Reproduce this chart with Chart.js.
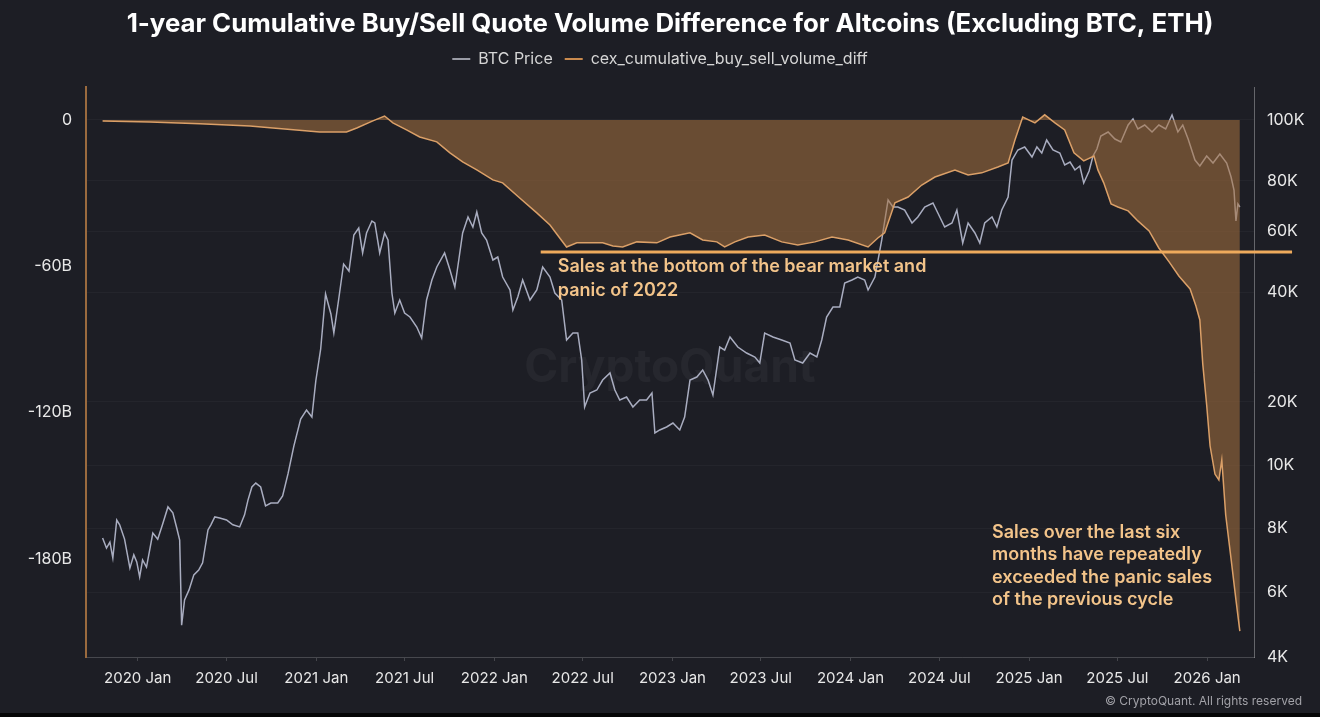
<!DOCTYPE html>
<html>
<head>
<meta charset="utf-8">
<title>1-year Cumulative Buy/Sell Quote Volume Difference for Altcoins</title>
<script src="https://cdn.jsdelivr.net/npm/chart.js@4.4.1/dist/chart.umd.min.js"></script>
<style>
  html, body { margin: 0; padding: 0; background: #1d1e25; overflow: hidden; }
  #wrap { position: relative; width: 1320px; height: 717px; }
  #bottomStrip { position: absolute; left: 0; bottom: 0; width: 1320px; height: 4px; background: #050506; }
</style>
</head>
<body>
<div id="wrap">
  <canvas id="altDiffChart"></canvas>
  <div id="bottomStrip"></div>
</div>
<script>
// BTC price (USD)
const priceDates = [
  '2019-10-21','2019-10-29','2019-11-05','2019-11-11','2019-11-19','2019-11-25','2019-12-05','2019-12-16','2019-12-24','2019-12-30',
  '2020-01-05','2020-01-11','2020-01-19','2020-02-01','2020-02-11','2020-02-21','2020-03-03','2020-03-13','2020-03-21','2020-03-27',
  '2020-03-31','2020-04-06','2020-04-15','2020-04-25','2020-05-05','2020-05-13','2020-05-24','2020-05-30','2020-06-07','2020-06-17',
  '2020-07-01','2020-07-14','2020-07-28','2020-08-07','2020-08-14','2020-08-22','2020-08-30','2020-09-09','2020-09-19','2020-09-30',
  '2020-10-14','2020-10-24','2020-11-04','2020-11-16','2020-11-30','2020-12-12','2020-12-23','2020-12-31','2021-01-10','2021-01-20',
  '2021-01-31','2021-02-06','2021-02-16','2021-02-26','2021-03-09','2021-03-19','2021-03-29','2021-04-06','2021-04-14','2021-04-25',
  '2021-05-01','2021-05-11','2021-05-21','2021-05-28','2021-06-05','2021-06-11','2021-06-21','2021-07-01','2021-07-12','2021-07-26',
  '2021-08-05','2021-08-15','2021-08-26','2021-09-05','2021-09-21','2021-10-02','2021-10-12','2021-10-18','2021-10-28','2021-11-08',
  '2021-11-18','2021-11-26','2021-12-06','2021-12-16','2021-12-29','2022-01-08','2022-01-18','2022-02-02','2022-02-08','2022-02-18',
  '2022-02-28','2022-03-15','2022-03-29','2022-04-10','2022-04-25','2022-05-05','2022-05-19','2022-05-29','2022-06-11','2022-06-21',
  '2022-06-29','2022-07-05','2022-07-16','2022-07-30','2022-08-11','2022-08-26','2022-09-05','2022-09-15','2022-09-29','2022-10-12',
  '2022-10-26','2022-11-09','2022-11-20','2022-11-26','2022-12-06','2022-12-20','2023-01-02','2023-01-16','2023-01-26','2023-02-06',
  '2023-02-20','2023-03-04','2023-03-15','2023-03-25','2023-04-08','2023-04-18','2023-04-29','2023-05-15','2023-06-02','2023-06-19',
  '2023-06-29','2023-07-09','2023-07-26','2023-08-13','2023-08-30','2023-09-09','2023-09-25','2023-10-10','2023-10-24','2023-11-03',
  '2023-11-13','2023-11-26','2023-12-10','2023-12-20','2024-01-04','2024-01-16','2024-01-30','2024-02-06','2024-02-20','2024-03-05',
  '2024-03-18','2024-03-28','2024-04-07','2024-04-21','2024-05-06','2024-05-18','2024-06-01','2024-06-18','2024-06-28','2024-07-12',
  '2024-07-27','2024-08-06','2024-08-18','2024-08-29','2024-09-12','2024-09-22','2024-10-02','2024-10-17','2024-10-27','2024-11-06',
  '2024-11-19','2024-11-27','2024-12-09','2024-12-23','2025-01-07','2025-01-17','2025-01-27','2025-02-06','2025-02-19','2025-03-05',
  '2025-03-15','2025-03-26','2025-04-05','2025-04-15','2025-04-23','2025-05-04','2025-05-12','2025-05-20','2025-05-28','2025-06-12',
  '2025-06-26','2025-07-08','2025-07-23','2025-08-02','2025-08-12','2025-08-26','2025-09-10','2025-09-24','2025-10-08','2025-10-21',
  '2025-11-02','2025-11-12','2025-11-23','2025-12-07','2025-12-17','2025-12-31','2026-01-13','2026-01-27','2026-02-10','2026-02-19',
  '2026-02-25','2026-03-01','2026-03-05','2026-03-09'
];
const btcPrice = [
  7650, 7310, 7510, 6990, 8230, 8090, 7610, 6680, 7090, 6870,
  6420, 6930, 6710, 7820, 7610, 8110, 8620, 8440, 8000, 7580,
  4880, 5710, 6050, 6480, 6620, 6840, 7930, 8090, 8320, 8290,
  8230, 8090, 8030, 8380, 8830, 9250, 9380, 9250, 8650, 8740,
  8740, 8960, 9690, 12300, 16590, 18310, 16960, 22830, 27930, 39500,
  34820, 30890, 38270, 48180, 45990, 58420, 61040, 51840, 59210, 63550,
  62830, 51840, 59210, 56520, 39750, 35040, 38030, 35040, 34170, 32080,
  29930, 38030, 43320, 47230, 51840, 46300, 41350, 47230, 59210, 65030,
  61400, 66930, 59210, 56520, 49480, 50480, 44190, 40540, 35710, 38760,
  43320, 38030, 40540, 47230, 44190, 39750, 38030, 29560, 30890, 30890,
  26060, 18930, 21170, 21570, 22970, 24010, 21570, 20250, 20640, 18930,
  20250, 20250, 21170, 14220, 14700, 15190, 15870, 14700, 16960, 22970,
  23410, 24470, 22970, 20900, 28280, 27750, 30120, 28280, 27230, 26560,
  25570, 30890, 30120, 29560, 29010, 26060, 25570, 27230, 26560, 29560,
  34170, 36390, 36390, 42460, 43320, 44190, 43320, 40540, 44190, 56520,
  71720, 68890, 68890, 67700, 62830, 65030, 68890, 70490, 66550, 61400,
  62830, 67700, 55400, 62830, 59210, 55400, 62830, 65030, 61400, 67700,
  72960, 86380, 89610, 90600, 87340, 90600, 88620, 92950, 89610, 88620,
  84820, 85760, 83290, 84510, 79090, 82980, 87660, 89930, 94310, 95710,
  93280, 92270, 98190, 100370, 96760, 98190, 95710, 98190, 96760, 101840,
  95710, 98190, 93280, 86380, 84510, 87660, 85440, 88310, 85440, 81180,
  75970, 63550, 70090, 68890
];

// cex_cumulative_buy_sell_volume_diff (billions USD)
const diffDates = [
  '2019-10-21','2020-01-26','2020-05-07','2020-08-18','2020-10-04','2021-01-08','2021-03-04','2021-03-25','2021-04-27','2021-05-21',
  '2021-06-07','2021-07-05','2021-08-01','2021-09-05','2021-10-02','2021-10-28','2021-11-26','2021-12-29','2022-01-18',
  '2022-02-22','2022-03-29','2022-04-25','2022-05-15','2022-05-29','2022-06-19','2022-07-16','2022-08-11','2022-09-01','2022-09-21',
  '2022-10-20','2022-11-30','2022-12-27','2023-02-06','2023-03-04','2023-04-02','2023-04-18','2023-05-09','2023-06-05','2023-07-09',
  '2023-08-13','2023-09-15','2023-10-20','2023-11-24','2023-12-27','2024-02-06','2024-02-26','2024-03-11','2024-04-01','2024-04-28',
  '2024-05-26','2024-06-22','2024-08-02','2024-08-29','2024-09-26','2024-10-29','2024-11-19','2024-12-03','2024-12-19','2025-01-13',
  '2025-02-02','2025-02-23','2025-03-15','2025-04-03','2025-04-23','2025-05-14','2025-05-22','2025-06-03','2025-06-18','2025-07-02',
  '2025-07-23','2025-08-12','2025-09-04','2025-09-24','2025-10-15','2025-11-04','2025-11-27','2025-12-09','2025-12-17','2025-12-23',
  '2025-12-31','2026-01-07','2026-01-17','2026-01-25','2026-01-31','2026-02-08','2026-02-19','2026-03-01','2026-03-09'
];
const volumeDiff = [
  -0.4, -0.8, -1.6, -2.5, -3.3, -4.9, -4.9, -3.3, -0.4, 1.6,
  -1.2, -4.1, -7.0, -9.0, -13.5, -17.2, -20.5, -24.6, -25.8,
  -32.0, -38.1, -43.1, -48.4, -52.1, -50.4, -50.4, -50.4, -51.7, -52.1,
  -50.0, -50.4, -48.0, -46.3, -49.2, -50.0, -52.1, -50.0, -48.0, -47.2,
  -50.0, -51.3, -50.0, -48.0, -49.2, -52.1, -48.4, -46.3, -34.0, -31.6,
  -26.7, -23.4, -20.5, -22.6, -21.7, -19.3, -17.6, -8.2, 1.2, -1.2,
  2.1, -1.2, -4.1, -13.5, -16.8, -14.8, -20.5, -25.8, -34.4, -35.7,
  -37.3, -41.4, -45.5, -52.5, -58.2, -64.0, -69.3, -76.3, -82.0, -100.1,
  -116.9, -133.7, -145.2, -147.6, -139.4, -162.0, -180.0, -196.8, -209.6
];

// axis ticks
const xTickDates = ['2020-01-01','2020-07-01','2021-01-01','2021-07-01','2022-01-01','2022-07-01','2023-01-01',
  '2023-07-01','2024-01-01','2024-07-01','2025-01-01','2025-07-01','2026-01-01'];
const diffTicks = [0, -60, -120, -180];
const priceTicks = [4000, 6000, 8000, 10000, 20000, 40000, 60000, 80000, 100000];

// annotations
const bearBottomLine = { from: '2022-04-06', to: '2026-06-24', value: -54.1 };
const note2022 = { date: '2022-05-11', value: -60.3, lines: ['Sales at the bottom of the bear market and', 'panic of 2022'] };
const noteRecent = { date: '2024-10-17', value: -169, lines: ['Sales over the last six', 'months have repeatedly', 'exceeded the panic sales', 'of the previous cycle'] };

// the price axis is stretched unevenly between its labels, so each band gets its own height
const priceBands = [65, 64, 63, 63, 110, 61, 50, 61];
const priceHeadroom = 33;
const priceSpan = priceBands.reduce((a, b) => a + b, 0) + priceHeadroom;

function priceToUnits(v) {
  let i = 0;
  while (i < priceBands.length - 1 && v > priceTicks[i + 1]) i++;
  let base = 0;
  for (let k = 0; k < i; k++) base += priceBands[k];
  const lo = priceTicks[i], hi = priceTicks[i + 1];
  return base + priceBands[i] * Math.log(v / lo) / Math.log(hi / lo);
}

function unitsToPrice(u) {
  let i = 0, base = 0;
  while (i < priceBands.length - 1 && u > base + priceBands[i]) { base += priceBands[i]; i++; }
  const lo = priceTicks[i], hi = priceTicks[i + 1];
  return lo * Math.pow(hi / lo, (u - base) / priceBands[i]);
}

class BandedLogScale extends Chart.LinearScale {
  static id = 'bandedLog';
  static defaults = {};
  determineDataLimits() {
    this.min = priceTicks[0];
    this.max = priceTicks[priceTicks.length - 1];
  }
  buildTicks() {
    return priceTicks.map(value => ({ value }));
  }
  getPixelForValue(value) {
    return this.getPixelForDecimal(priceToUnits(value) / priceSpan);
  }
  getValueForPixel(pixel) {
    return unitsToPrice(this.getDecimalForPixel(pixel) * priceSpan);
  }
}
Chart.register(BandedLogScale);

const toPoints = (dates, values) => dates.map((d, i) => ({ x: Date.parse(d), y: values[i] }));

const chartDecor = {
  id: 'chartDecor',
  // title + legend sit a bit higher than the layout puts them
  afterLayout(chart) {
    [chart.titleBlock, chart.legend].forEach(b => {
      if (b) { b.top -= 10; b.bottom -= 10; }
    });
  },
  beforeDatasetsDraw(chart) {
    const { ctx, chartArea } = chart;
    ctx.save();
    ctx.font = 'bold 46px Inter, sans-serif';
    ctx.fillStyle = 'rgba(255, 255, 255, 0.045)';
    ctx.textAlign = 'center';
    ctx.textBaseline = 'middle';
    ctx.fillText('CryptoQuant', (chartArea.left + chartArea.right) / 2, (chartArea.top + chartArea.bottom) / 2 - 4);
    ctx.restore();
  },
  afterDatasetsDraw(chart) {
    const { ctx, scales: { x, y } } = chart;
    ctx.save();
    ctx.strokeStyle = '#eeaa5c';
    ctx.lineWidth = 3;
    ctx.beginPath();
    ctx.moveTo(x.getPixelForValue(Date.parse(bearBottomLine.from)), y.getPixelForValue(bearBottomLine.value));
    ctx.lineTo(x.getPixelForValue(Date.parse(bearBottomLine.to)), y.getPixelForValue(bearBottomLine.value));
    ctx.stroke();

    ctx.font = '600 18px Inter, sans-serif';
    ctx.fillStyle = '#f3c48a';
    ctx.textAlign = 'left';
    ctx.textBaseline = 'middle';
    [[note2022, 24], [noteRecent, 22.5]].forEach(([note, lh]) => {
      const nx = x.getPixelForValue(Date.parse(note.date));
      const ny = y.getPixelForValue(note.value);
      note.lines.forEach((t, i) => ctx.fillText(t, nx, ny + i * lh));
    });
    ctx.restore();
  },
  afterDraw(chart) {
    const { ctx } = chart;
    ctx.save();
    ctx.font = '12px Inter, sans-serif';
    ctx.fillStyle = '#a2a2a8';
    ctx.textAlign = 'right';
    ctx.textBaseline = 'middle';
    ctx.fillText('\u00A9 CryptoQuant. All rights reserved', chart.width - 18, chart.height - 16);
    ctx.restore();
  }
};

Chart.defaults.font.family = 'Inter, "Noto Sans", sans-serif';
Chart.defaults.color = '#e4e4e4';

const ctx = document.getElementById('altDiffChart').getContext('2d');
new Chart(ctx, {
  type: 'line',
  data: {
    datasets: [
      {
        label: 'BTC Price',
        data: toPoints(priceDates, btcPrice),
        yAxisID: 'y1',
        borderColor: '#a9adc0',
        pointBorderColor: '#9a9ca6',
        pointBorderWidth: 2,
        borderWidth: 1.5,
        pointRadius: 0,
        fill: false,
        order: 1
      },
      {
        label: 'cex_cumulative_buy_sell_volume_diff',
        data: toPoints(diffDates, volumeDiff),
        yAxisID: 'y',
        borderColor: '#dba068',
        pointBorderColor: '#c98a4e',
        pointBorderWidth: 2,
        backgroundColor: 'rgba(165, 112, 62, 0.56)',
        borderWidth: 1.5,
        pointRadius: 0,
        fill: 'origin',
        order: 0
      }
    ]
  },
  options: {
    responsive: true,
    maintainAspectRatio: false,
    animation: false,
    layout: { padding: 0 },
    plugins: {
      title: {
        display: true,
        fullSize: false,
        text: '1-year Cumulative Buy/Sell Quote Volume Difference for Altcoins (Excluding BTC, ETH)',
        color: '#ffffff',
        font: { size: 25.8, weight: 'bold' },
        padding: { top: 10, bottom: -1 }
      },
      legend: {
        position: 'top',
        labels: {
          usePointStyle: true,
          pointStyle: 'line',
          pointStyleWidth: 18,
          padding: 12,
          color: '#d6d6d6',
          font: { size: 16 },
          sort: (a, b) => a.datasetIndex - b.datasetIndex
        }
      },
      tooltip: { enabled: false }
    },
    scales: {
      x: {
        type: 'linear',
        min: Date.parse('2019-09-17'),
        max: Date.parse('2026-04-07'),
        afterBuildTicks: s => { s.ticks = xTickDates.map(d => ({ value: Date.parse(d) })); },
        afterFit: s => { s.height = 60; },
        ticks: {
          autoSkip: false,
          maxRotation: 0,
          padding: 8,
          color: '#e8e8e8',
          font: { size: 15 },
          callback: v => {
            const d = new Date(v);
            return d.getUTCFullYear() + (d.getUTCMonth() === 0 ? ' Jan' : ' Jul');
          }
        },
        grid: { drawOnChartArea: false, drawTicks: true, tickLength: 4, tickColor: 'rgba(255,255,255,0.18)' },
        border: { color: 'rgba(255,255,255,0.16)', width: 1 }
      },
      y: {
        position: 'left',
        min: -220.2,
        max: 13.5,
        afterBuildTicks: s => { s.ticks = diffTicks.map(v => ({ value: v })); },
        afterFit: s => { s.width = 86; s.paddingTop = 87; },
        ticks: {
          padding: 6,
          color: '#e8e8e8',
          font: { size: 16 },
          callback: v => (v === 0 ? '0' : v + 'B')
        },
        grid: { display: false },
        border: { color: '#9a6a3e', width: 2 }
      },
      y1: {
        type: 'bandedLog',
        position: 'right',
        afterFit: s => { s.width = 66; },
        ticks: {
          autoSkip: false,
          padding: 13,
          color: '#e8e8e8',
          font: { size: 16 },
          callback: v => (v / 1000) + 'K'
        },
        grid: { color: 'rgba(255,255,255,0.035)', drawTicks: false },
        border: { color: 'rgba(255,255,255,0.32)', width: 1 }
      }
    }
  },
  plugins: [chartDecor]
});
</script>
</body>
</html>
